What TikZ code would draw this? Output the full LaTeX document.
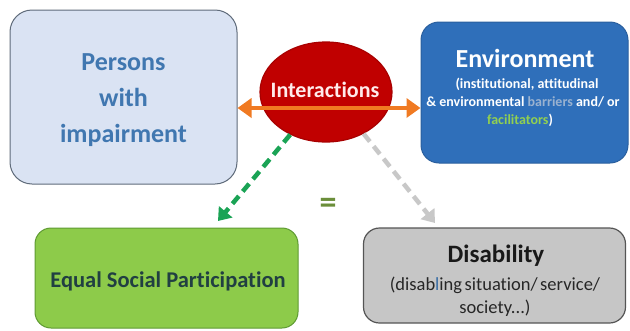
\documentclass[tikz,border=0pt]{standalone}
\usepackage{fontspec}
\setmainfont{Carlito}[Ligatures=NoCommon]
\usetikzlibrary{arrows.meta,shapes.geometric}
\definecolor{pfill}{HTML}{DAE3F3}
\definecolor{pdraw}{HTML}{5F6B7A}
\definecolor{ptext}{HTML}{4077B0}
\definecolor{efill}{HTML}{2F6FBA}
\definecolor{edraw}{HTML}{2A5F9E}
\definecolor{barcol}{HTML}{9AB2D0}
\definecolor{faccol}{HTML}{92D050}
\definecolor{gfill}{HTML}{8DCB4A}
\definecolor{gdraw}{HTML}{5E9A32}
\definecolor{gtext}{HTML}{213F42}
\definecolor{dfill}{HTML}{C6C6C6}
\definecolor{ddraw}{HTML}{555555}
\definecolor{redfill}{HTML}{C00000}
\definecolor{reddraw}{HTML}{A80000}
\definecolor{orangearr}{HTML}{F07A22}
\definecolor{greenarr}{HTML}{1AA355}
\definecolor{greyarr}{HTML}{C8C8C8}
\definecolor{eqcol}{HTML}{6B8E3A}
\definecolor{lblue}{HTML}{3A6EA5}
\newcommand{\tightsp}{\spaceskip=2.5pt\relax}
\begin{document}
\begin{tikzpicture}[x=1pt,y=-1pt,
  box/.style={rectangle, line width=1pt, inner sep=0pt},
  txt/.style={anchor=base, inner sep=0pt},
  dasharrow/.style={line width=4.5pt, dash pattern=on 10pt off 6pt,
    -{Triangle[length=12pt,width=17pt]}}]
\useasboundingbox (0,0) rectangle (630,330);
% boxes
\node[box, fill=pfill, draw=pdraw, minimum width=227pt, minimum height=174pt, rounded corners=22pt] (persons) at (123.5,97) {};
\node[box, fill=efill, draw=edraw, minimum width=207pt, minimum height=141pt, rounded corners=18pt] (env) at (524.5,92.5) {};
\node[box, fill=gfill, draw=gdraw, minimum width=263pt, minimum height=100pt, rounded corners=16pt] (equal) at (166.5,278) {};
\node[box, fill=dfill, draw=ddraw, line width=1.2pt, minimum width=262pt, minimum height=95pt, rounded corners=16pt] (dis) at (494.5,275.5) {};
\node[ellipse, fill=redfill, draw=reddraw, line width=1.2pt, minimum width=132pt, minimum height=100pt, inner sep=0pt] (int) at (326,92) {};
% persons text
\node[txt, text=ptext, font=\bfseries\fontsize{26}{30}\selectfont] (p1) at (123.5,70) {Persons};
\node[txt, text=ptext, font=\bfseries\fontsize{26}{30}\selectfont] (p2) at (123.5,106) {with};
\node[txt, text=ptext, font=\bfseries\fontsize{26}{30}\selectfont] (p3) at (123.5,142) {impairment};
% interactions text
\node[txt, text=white!92!red, font=\bfseries\fontsize{22}{26}\selectfont] (itxt) at (325,97) {Interactions};
% environment text
\node[txt, text=white, font=\bfseries\fontsize{26}{30}\selectfont] (e1) at (525,67) {Environment};
\node[txt, text=white, font=\bfseries\fontsize{14}{17}\selectfont] (e2) at (527,88) {(institutional, attitudinal};
\node[txt, text=white, font=\bfseries\fontsize{14}{17}\selectfont] (e3) at (523,106) {\& environmental {\color{barcol}barriers} and/ or};
\node[txt, text=white, font=\bfseries\fontsize{14}{17}\selectfont] (e4) at (520,124) {{\color{faccol}facilitators})};
% equal text
\node[txt, text=gtext, font=\bfseries\fontsize{22.5}{26}\selectfont] (q1) at (168,287) {Equal Social Participation};
% disability text
\node[txt, text=black!90, font=\bfseries\fontsize{25}{28}\selectfont] (d1) at (496,262) {Disability};
\node[txt, text=black!85, font=\fontsize{18.5}{22}\selectfont] (d2) at (495,290) {\tightsp(disab{\color{lblue}l}ing situation/ service/};
\node[txt, text=black!85, font=\fontsize{18.5}{22}\selectfont] (d3) at (495,313) {society...)};
% equals sign
\node[text=eqcol, font=\bfseries\fontsize{34}{38}\selectfont, inner sep=0pt] (eq) at (328,206) {=};
% arrows
\coordinate (arry) at (326,108);
\draw[orangearr, line width=4pt, {Triangle[length=14pt,width=19pt]}-{Triangle[length=14pt,width=19pt]}]
  (persons.east |- arry) -- (env.west |- arry);
\coordinate (gtip) at (218,221);
\draw[greenarr, dasharrow] (int.-130) -- (gtip);
\coordinate (ytip) at (435,223);
\draw[greyarr, dasharrow] (int.-48) -- (ytip);
\end{tikzpicture}
\end{document}
